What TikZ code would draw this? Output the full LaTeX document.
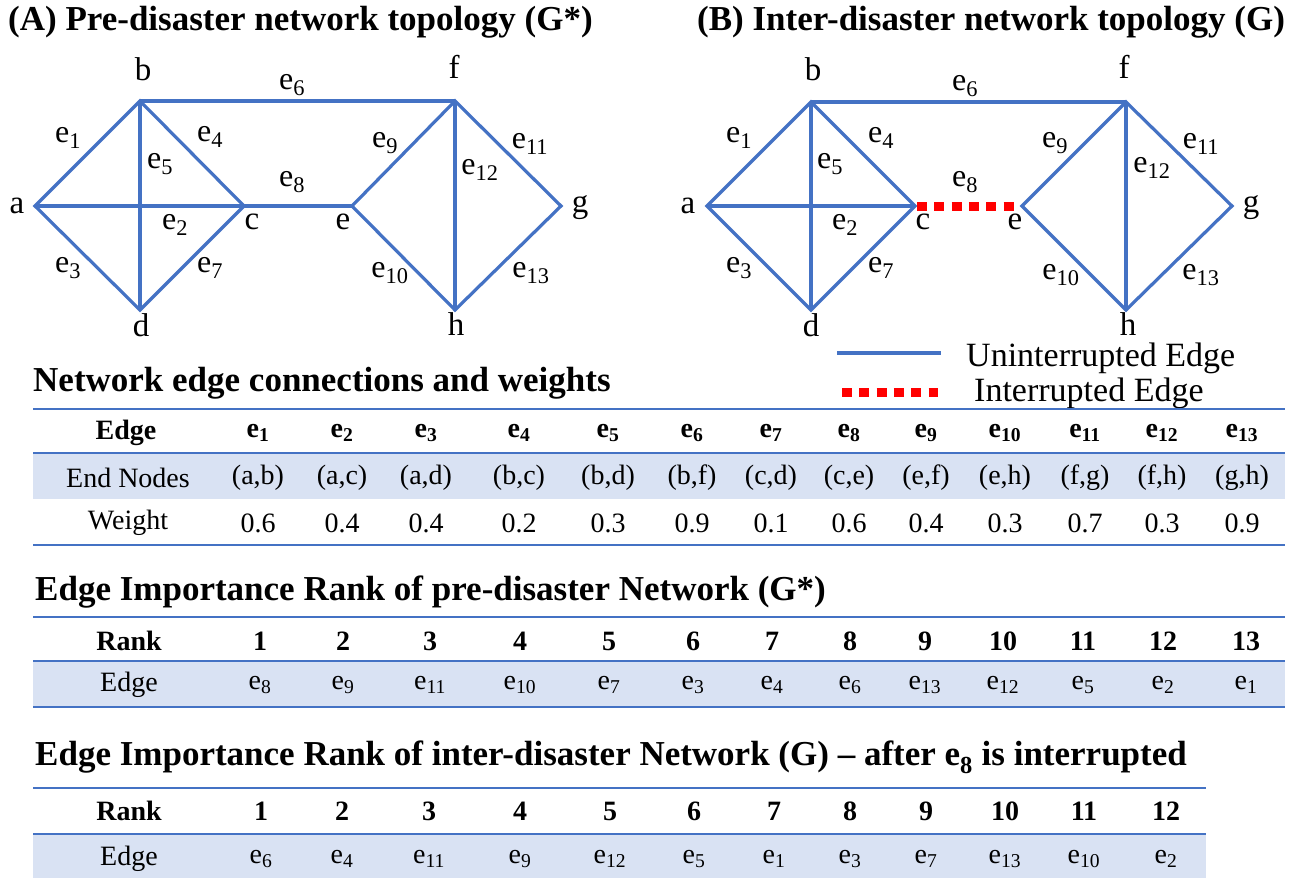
\documentclass[tikz,border=0pt]{standalone}
\usepackage{fontspec}
\setmainfont{Liberation Serif}[UprightFont=LiberationSerif, BoldFont=LiberationSerif-Bold, ItalicFont=LiberationSerif-Italic]
\definecolor{edgeblue}{HTML}{4472C4}
\definecolor{rowshade}{HTML}{D9E2F3}
\definecolor{cutred}{HTML}{FF0000}
\newcommand{\es}[1]{e\textsubscript{#1}}
\tikzset{
  link/.style={draw=edgeblue, line width=3.2pt, line join=miter},
  cut/.style={draw=cutred, line width=9pt, dash pattern=on 10pt off 7.3pt},
  vlabel/.style={font=\fontsize{33}{34}\selectfont, inner sep=0pt},
  elabel/.style={font=\fontsize{32}{34}\selectfont, inner sep=0pt},
  heading/.style={font=\fontsize{35}{40}\selectfont\bfseries, inner sep=0pt, anchor=west},
  legendtext/.style={font=\fontsize{34}{40}\selectfont, inner sep=0pt, anchor=west},
  tabrule/.style={draw=edgeblue, line width=2.5pt},
  cell/.style={font=\fontsize{28}{30}\selectfont, inner sep=0pt},
  hcell/.style={font=\fontsize{28}{30}\selectfont\bfseries, inner sep=0pt},
}
\begin{document}
\begin{tikzpicture}[x=1pt, y=-1pt]
\useasboundingbox (0,0) rectangle (1302,878);

% ---------- panel titles ----------
\node[heading] (titleA) at (8,22) {(A) Pre-disaster network topology (G*)};
\node[heading] (titleB) at (697,22) {(B) Inter-disaster network topology (G)};

% ---------- network A ----------
\coordinate (Aa) at (35,206);
\coordinate (Ab) at (140,101);
\coordinate (Ac) at (244,206);
\coordinate (Ad) at (140,310);
\coordinate (Ae) at (352,206);
\coordinate (Af) at (455,101);
\coordinate (Ag) at (561,206);
\coordinate (Ah) at (455,310);
\draw[link] (Aa) -- (Ab) -- (Ac) -- (Ad) -- cycle;
\draw[link] (Aa) -- (Ac);
\draw[link] (Ab) -- (Ad);
\draw[link] (Ab) -- (Af);
\draw[link] (Ac) -- (Ae);
\draw[link] (Ae) -- (Af) -- (Ag) -- (Ah) -- cycle;
\draw[link] (Af) -- (Ah);

\node[vlabel] (Lab) at (17,206) {a};
\node[vlabel] (Lbb) at (143,69) {b};
\node[vlabel] (Lcb) at (252,222) {c};
\node[vlabel] (Ldb) at (141,325) {d};
\node[vlabel] (Leb) at (343,222) {e};
\node[vlabel] (Lfb) at (454,67) {f};
\node[vlabel] (Lgb) at (580,208) {g};
\node[vlabel] (Lhb) at (456,324) {h};

\node[elabel] (Ae1) at (68,138) {\es{1}};
\node[elabel] (Ae2) at (175,225) {\es{2}};
\node[elabel] (Ae3) at (68,268) {\es{3}};
\node[elabel] (Ae4) at (210,137) {\es{4}};
\node[elabel] (Ae5) at (160,164) {\es{5}};
\node[elabel] (Ae6) at (292,85) {\es{6}};
\node[elabel] (Ae7) at (210,268) {\es{7}};
\node[elabel] (Ae8) at (292,182) {\es{8}};
\node[elabel] (Ae9) at (385,143) {\es{9}};
\node[elabel] (Ae10) at (390,273) {\es{10}};
\node[elabel] (Ae11) at (530,144) {\es{11}};
\node[elabel] (Ae12) at (480,170) {\es{12}};
\node[elabel] (Ae13) at (531,273) {\es{13}};

% ---------- network B ----------
\coordinate (Ba) at (707,206);
\coordinate (Bb) at (811,102);
\coordinate (Bc) at (915,206);
\coordinate (Bd) at (811,310);
\coordinate (Be) at (1022,206);
\coordinate (Bf) at (1126,102);
\coordinate (Bg) at (1232,206);
\coordinate (Bh) at (1126,310);
\coordinate (Bcut0) at (917,206);
\coordinate (Bcut1) at (1014,206);
\draw[link] (Ba) -- (Bb) -- (Bc) -- (Bd) -- cycle;
\draw[link] (Ba) -- (Bc);
\draw[link] (Bb) -- (Bd);
\draw[link] (Bb) -- (Bf);
\draw[link] (Be) -- (Bf) -- (Bg) -- (Bh) -- cycle;
\draw[link] (Bf) -- (Bh);
\draw[cut] (Bcut0) -- (Bcut1);

\node[vlabel] (Mab) at (688,206) {a};
\node[vlabel] (Mbb) at (813,69) {b};
\node[vlabel] (Mcb) at (923,222) {c};
\node[vlabel] (Meb) at (1015,222) {e};
\node[vlabel] (Mdb) at (811,325) {d};
\node[vlabel] (Mfb) at (1124,67) {f};
\node[vlabel] (Mgb) at (1251,208) {g};
\node[vlabel] (Mhb) at (1128,324) {h};

\node[elabel] (Be1) at (739,138) {\es{1}};
\node[elabel] (Be2) at (845,225) {\es{2}};
\node[elabel] (Be3) at (739,268) {\es{3}};
\node[elabel] (Be4) at (881,138) {\es{4}};
\node[elabel] (Be5) at (830,164) {\es{5}};
\node[elabel] (Be6) at (965,86) {\es{6}};
\node[elabel] (Be7) at (881,268) {\es{7}};
\node[elabel] (Be8) at (965,182) {\es{8}};
\node[elabel] (Be9) at (1055,143) {\es{9}};
\node[elabel] (Be10) at (1061,275) {\es{10}};
\node[elabel] (Be11) at (1201,144) {\es{11}};
\node[elabel] (Be12) at (1152,168) {\es{12}};
\node[elabel] (Be13) at (1201,275) {\es{13}};

% ---------- legend ----------
\coordinate (legU1) at (837,353);
\coordinate (legU2) at (941,353);
\coordinate (legI1) at (842,392);
\coordinate (legI2) at (938,392);
\draw[link] (legU1) -- (legU2);
\draw[cut] (legI1) -- (legI2);
\node[legendtext] (legU) at (966,358) {Uninterrupted Edge};
\node[legendtext] (legI) at (974,393) {Interrupted Edge};

% ---------- table: edge connections and weights ----------
\node[heading] (secW) at (33,383) {Network edge connections and weights};
\fill[rowshade] (33,453) rectangle (1285,499);
\draw[tabrule] (33,409) -- (1285,409);
\draw[tabrule] (33,453) -- (1285,453);
\draw[tabrule] (33,545) -- (1285,545);
\node[hcell] (wHead) at (126,433) {Edge};
\node[cell] (wNodes) at (128,478) {End Nodes};
\node[cell] (wWeight) at (128,523) {Weight};
\foreach \x/\n/\w [count=\i] in {258/{(a,b)}/0.6, 342/{(a,c)}/0.4, 426/{(a,d)}/0.4,
    519/{(b,c)}/0.2, 608/{(b,d)}/0.3, 692/{(b,f)}/0.9, 771/{(c,d)}/0.1,
    849/{(c,e)}/0.6, 926/{(e,f)}/0.4, 1005/{(e,h)}/0.3, 1085/{(f,g)}/0.7,
    1162/{(f,h)}/0.3, 1242/{(g,h)}/0.9} {
  \node[hcell] (wh\i) at (\x,433) {\es{\i}};
  \node[cell] (wn\i) at (\x,478) {\n};
  \node[cell] (ww\i) at (\x,523) {\w};
}

% ---------- table: rank before the disaster ----------
\node[heading] (secR1) at (35,592) {Edge Importance Rank of pre-disaster Network (G*)};
\fill[rowshade] (33,661) rectangle (1285,707);
\draw[tabrule] (33,617) -- (1285,617);
\draw[tabrule] (33,661) -- (1285,661);
\draw[tabrule] (33,707) -- (1285,707);
\node[hcell] (r1Head) at (129,641) {Rank};
\node[cell] (r1Edge) at (129,685) {Edge};
\foreach \x/\e [count=\i] in {260/8, 343/9, 430/11, 520/10, 609/7, 693/3, 772/4,
    850/6, 925/13, 1003/12, 1083/5, 1163/2, 1246/1} {
  \node[hcell] (r1n\i) at (\x,641) {\i};
  \node[cell] (r1e\i) at (\x,685) {\es{\e}};
}

% ---------- table: rank after e8 is cut ----------
\node[heading] (secR2) at (35,757) {Edge Importance Rank of inter-disaster Network (G) -- after \es{8} is interrupted};
\fill[rowshade] (33,834) rectangle (1206,878);
\draw[tabrule] (33,788) -- (1206,788);
\draw[tabrule] (33,834) -- (1206,834);
\node[hcell] (r2Head) at (129,811) {Rank};
\node[cell] (r2Edge) at (129,859) {Edge};
\foreach \x/\e [count=\i] in {261/6, 342/4, 429/11, 520/9, 610/12, 694/5, 774/1,
    850/3, 926/7, 1005/13, 1084/10, 1166/2} {
  \node[hcell] (r2n\i) at (\x,811) {\i};
  \node[cell] (r2e\i) at (\x,859) {\es{\e}};
}
\end{tikzpicture}
\end{document}
